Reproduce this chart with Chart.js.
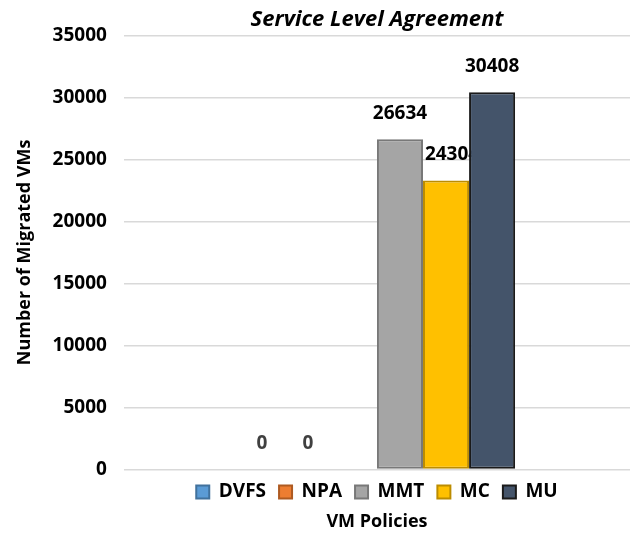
<!DOCTYPE html>
<html>
<head>
<meta charset="utf-8">
<script src="https://cdn.jsdelivr.net/npm/chart.js@4.4.0/dist/chart.umd.min.js"></script>
<style>
  html, body { margin: 0; padding: 0; background: #fff; }
  #wrap { width: 634px; height: 534px; }
</style>
</head>
<body>
<div id="wrap"><canvas id="myChart" width="634" height="534"></canvas></div>
<script>
// data
var categories = [''];
var policyNames = ['DVFS', 'NPA', '', 'MMT', 'MC', 'MU'];
var migrated = [0, 0, null, 26634, 23300, 30408];
var valueLabels = ['0', '0', '', '26634', '24304', '30408'];
var yTicks = [0, 5000, 10000, 15000, 20000, 25000, 30000, 35000];

var fills = ['#5B9BD5', '#ED7D31', '#ffffff', '#A5A5A5', '#FFC000', '#44546A'];
var borders = ['#41719C', '#AE5A21', '#ffffff', '#787878', '#BC8C00', '#1a1a1a'];
// the MC label sits a bit to the right in the original and runs under the MU bar
var labelNudge = { 4: 6 };

var FONT = '"Open Sans", "DejaVu Sans", sans-serif';

var datasets = [];
for (var i = 0; i < policyNames.length; i++) {
  datasets.push({
    label: policyNames[i],
    data: [migrated[i]],
    backgroundColor: fills[i],
    borderColor: borders[i],
    borderWidth: 2,
    borderSkipped: false
  });
}

// labels go under the bars, so the MU bar hides the end of the MC label
var barLabels = {
  id: 'barLabels',
  beforeDatasetsDraw: function(chart) {
    var ctx = chart.ctx;
    ctx.save();
    ctx.font = 'bold 19px ' + FONT;
    ctx.textAlign = 'center';
    ctx.textBaseline = 'middle';
    for (var i = 0; i < valueLabels.length; i++) {
      if (!valueLabels[i]) continue;
      var el = chart.getDatasetMeta(i).data[0];
      ctx.fillStyle = migrated[i] === 0 ? '#404040' : '#000000';
      ctx.fillText(valueLabels[i], el.x + (labelNudge[i] || 0), el.y - 26);
    }
    ctx.restore();
  }
};

var ctx = document.getElementById('myChart').getContext('2d');
var myChart = new Chart(ctx, {
  type: 'bar',
  data: { labels: categories, datasets: datasets },
  plugins: [barLabels],
  options: {
    responsive: false,
    animation: false,
    layout: { padding: { left: 14, right: 4, top: 7, bottom: 1 } },
    datasets: { bar: { barPercentage: 1, categoryPercentage: 0.546 } },
    scales: {
      x: { display: false },
      y: {
        min: 0,
        max: 35000,
        afterBuildTicks: function(axis) {
          axis.ticks = yTicks.map(function(v) { return { value: v }; });
        },
        border: { display: false },
        grid: { color: '#d9d9d9', lineWidth: 1.5, drawTicks: false },
        ticks: {
          padding: 17,
          color: '#000',
          font: { family: FONT, size: 19, weight: 'bold' },
          callback: function(v) { return String(v); }
        },
        title: {
          display: true,
          text: 'Number of Migrated VMs',
          color: '#000',
          padding: { top: 0, bottom: 0 },
          font: { family: FONT, size: 18, weight: 'bold' }
        }
      }
    },
    plugins: {
      tooltip: { enabled: false },
      title: {
        display: true,
        text: 'Service Level Agreement',
        fullSize: false,
        color: '#000',
        padding: { top: 0, bottom: 2 },
        font: { family: FONT, size: 22, weight: 'bold', style: 'italic' }
      },
      subtitle: {
        display: true,
        position: 'bottom',
        text: 'VM Policies',
        fullSize: false,
        color: '#000',
        padding: { top: 0, bottom: 0 },
        font: { family: FONT, size: 18, weight: 'bold' }
      },
      legend: {
        display: true,
        position: 'bottom',
        fullSize: false,
        labels: {
          boxWidth: 13,
          boxHeight: 13,
          padding: 13,
          color: '#000',
          font: { family: FONT, size: 19, weight: 'bold' },
          filter: function(item) { return item.text !== ''; }
        }
      }
    }
  }
});
</script>
</body>
</html>
